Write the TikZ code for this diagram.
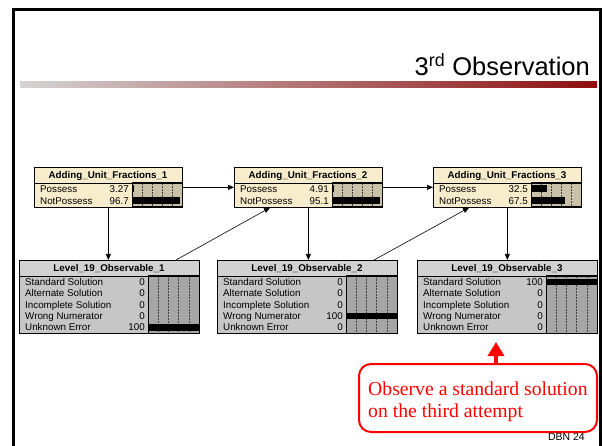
\documentclass[tikz,border=0pt]{standalone}
\usepackage{fontspec}
\setmainfont{Liberation Sans}
\newfontfamily\calloutfont{Liberation Serif}
\usetikzlibrary{arrows.meta}

\definecolor{aufcream}{HTML}{F7EDCD}
\definecolor{aufbarbg}{HTML}{CAC1A9}
\definecolor{obshead}{HTML}{D2D2D2}
\definecolor{obsbody}{HTML}{C6C6C6}
\definecolor{obsbarbg}{HTML}{A6A6A6}
\definecolor{barleft}{HTML}{D4D4D4}
\definecolor{barmid}{HTML}{B8A4A4}
\definecolor{barright}{HTML}{8E0E0E}
\definecolor{notered}{HTML}{FF0000}

\tikzset{
  nodetext/.style={font=\fontsize{9.8}{11}\selectfont, inner sep=0pt},
  rowlabel/.style={nodetext, anchor=base west},
  rowvalue/.style={nodetext, anchor=base east},
  headtext/.style={font=\fontsize{9.8}{11}\selectfont\bfseries, inner sep=0pt},
  gridline/.style={black!75, line width=0.5pt, dash pattern=on 1.8pt off 1.2pt},
  framebox/.style={draw=black, line width=0.7pt, inner sep=0pt, anchor=north west},
  link/.style={line width=0.6pt, -{Triangle[length=6pt,width=5pt]}},
  slideframe/.style={line width=3pt, black},
}

% Belief node with two states: name, x, y, title, value 1, value 2, percent 1, percent 2
\newcommand\aufnode[8]{%
  \begin{scope}[shift={(#2,#3)}]
    \fill[aufcream] (0,0) rectangle (148,40);
    \fill[aufbarbg] (98,16) rectangle (148,40);
    \foreach \g in {10,20,30,40} \draw[gridline] (98+\g,16) -- (98+\g,40);
    \fill (98,18.5) rectangle ({98+0.5*#7},25.5);
    \fill (98,30.5) rectangle ({98+0.5*#8},37.5);
    \draw[line width=1pt] (98,16) rectangle (148,40);
    \draw[line width=0.7pt] (0,16) -- (148,16);
    \node[headtext] (#1-title) at (74,8.5) {#4};
    \node[rowlabel] (#1-l1) at (6,25.5) {Possess};
    \node[rowvalue] (#1-v1) at (95,25.5) {#5};
    \node[rowlabel] (#1-l2) at (6,37.5) {NotPossess};
    \node[rowvalue] (#1-v2) at (95,37.5) {#6};
    \node[framebox, minimum width=148pt, minimum height=40pt] (#1) at (0,0) {};
  \end{scope}}

% Observable node with five states: name, x, y, title, state holding 100
\newcommand\obsnode[5]{%
  \begin{scope}[shift={(#2,#3)}]
    \fill[obsbody] (0,0) rectangle (180,73);
    \fill[obshead] (0,0) rectangle (180,16);
    \fill[obsbarbg] (129,16) rectangle (180,73);
    \foreach \g in {10.2,20.4,30.6,40.8} \draw[gridline] (129+\g,16) -- (129+\g,73);
    \foreach \lab [count=\j] in {Standard Solution,Alternate Solution,Incomplete Solution,Wrong Numerator,Unknown Error}{
      \pgfmathsetmacro\yc{16+11.4*(\j-0.5)}
      \node[rowlabel] (#1-l\j) at (6,\yc+3.5) {\lab};
      \ifnum\j=#5
        \node[rowvalue] (#1-v\j) at (126,\yc+3.5) {100};
        \fill (129,\yc-3.2) rectangle (180,\yc+3.2);
      \else
        \node[rowvalue] (#1-v\j) at (126,\yc+3.5) {0};
      \fi
    }
    \draw[line width=1pt] (129,16) rectangle (180,73);
    \draw[line width=0.7pt] (0,16) -- (180,16);
    \node[headtext] (#1-title) at (90,8.5) {#4};
    \node[framebox, minimum width=180pt, minimum height=73pt] (#1) at (0,0) {};
  \end{scope}}

\begin{document}
\begin{tikzpicture}[x=1pt, y=-1pt]
  \fill[white] (0,0) rectangle (602,446);
  \useasboundingbox (0,0) rectangle (602,446);

  % slide frame, open at the bottom
  \draw[slideframe] (13.5,452) -- (13.5,10) -- (600,10) -- (600,452);

  % title and rule
  \node[font=\fontsize{25.5}{30}\selectfont, anchor=base east, inner sep=0pt] (title)
    at (590,76) {3\textsuperscript{rd} Observation};
  \shade[left color=barleft, middle color=barmid, right color=barright] (20,82) rectangle (597,88);

  % network nodes
  \aufnode{A1}{34}{167}{Adding\_Unit\_Fractions\_1}{3.27}{96.7}{3.27}{96.7}
  \aufnode{A2}{234}{167}{Adding\_Unit\_Fractions\_2}{4.91}{95.1}{4.91}{95.1}
  \aufnode{A3}{433}{167}{Adding\_Unit\_Fractions\_3}{32.5}{67.5}{32.5}{67.5}
  \obsnode{L1}{19}{260}{Level\_19\_Observable\_1}{5}
  \obsnode{L2}{217}{260}{Level\_19\_Observable\_2}{4}
  \obsnode{L3}{417}{260}{Level\_19\_Observable\_3}{1}

  % links
  \draw[link] (A1.east) -- (A2.west);
  \draw[link] (A2.east) -- (A3.west);
  \draw[link] (A1.south) -- (A1.south |- L1.north);
  \draw[link] (A2.south) -- (A2.south |- L2.north);
  \draw[link] (A3.south) -- (A3.south |- L3.north);
  \draw[link] ([xshift=157pt]L1.north west) -- ([xshift=36pt]A2.south west);
  \draw[link] ([xshift=157pt]L2.north west) -- ([xshift=36pt]A3.south west);

  % callout
  \node[draw=notered, line width=2pt, fill=white, rounded corners=12pt,
        minimum width=238pt, minimum height=68pt, anchor=north west, inner sep=0pt]
    (note) at (358,363) {};
  \node[font=\calloutfont\fontsize{19.7}{22}\selectfont, text=notered, align=left,
        anchor=base west, inner sep=0pt] (notetext) at (368,417)
    {Observe a standard solution\\on the third attempt};
  \coordinate (notetip) at (496,342);
  \draw[notered, line width=3.5pt, -{Triangle[length=14pt,width=16pt]}]
    ([xshift=138pt]note.north west) -- (notetip);

  % page label
  \node[font=\fontsize{10.5}{12}\selectfont, anchor=base east, inner sep=0pt] (pagelabel)
    at (585,440) {DBN 24};
\end{tikzpicture}
\end{document}
